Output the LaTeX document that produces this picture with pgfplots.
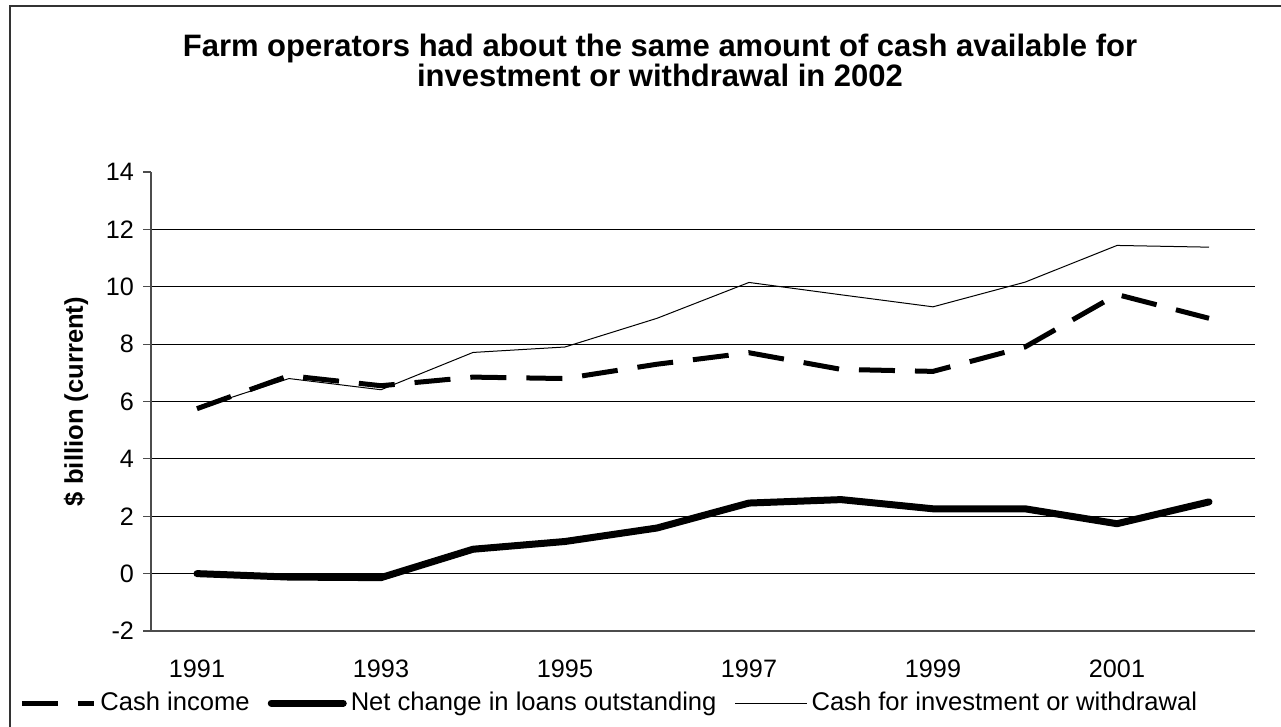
\documentclass[border=0pt]{standalone}
\usepackage{fontspec}
\setmainfont{Liberation Sans}
\usepackage{pgfplots}
\pgfplotsset{compat=1.18}
\newcommand{\tl}{\fontsize{12.6}{14}\selectfont}
\begin{document}
\begin{tikzpicture}
\begin{scope}[x=0.5pt,y=-0.5pt]
\path[use as bounding box] (0,0) rectangle (1281,727);
\draw[line width=1pt, black!80] (10,727) -- (10,6) -- (1281,6);
\node[font=\fontsize{15.5}{15}\selectfont\bfseries, align=center] at (660,60) {Farm operators had about the same amount of cash available for\\investment or withdrawal in 2002};
\end{scope}
\begin{axis}[
  at={(75.5pt,-315.5pt)}, anchor=south west,
  scale only axis, width=552pt, height=229.5pt,
  xmin=1990.5, xmax=2002.5, ymin=-2, ymax=14,
  axis x line*=bottom, axis y line*=left,
  axis line style={black!70, line width=0.6pt, -},
  tick style={black!70, line width=0.6pt},
  tick align=outside, major tick length=4pt, minor tick length=4pt,
  xtick={1991,1993,...,2001}, xtick style={draw=none},
  xticklabels={\tl 1991,\tl 1993,\tl 1995,\tl 1997,\tl 1999,\tl 2001},
  minor xtick={1990.5,1991.5,...,2002.5},
  ytick={-2,0,...,12},
  yticklabels={\tl -2,\tl 0,\tl 2,\tl 4,\tl 6,\tl 8,\tl 10,\tl 12},
  extra y ticks={14}, extra y tick labels={\tl 14}, extra y tick style={grid=none},
  ymajorgrids, grid style={black, line width=0.5pt},
  tick label style={font=\tl},
  xticklabel style={yshift=-7pt},
  yticklabel style={xshift=-1pt},
  ylabel={\$ billion (current)},
  ylabel style={font=\fontsize{12.8}{14}\selectfont\bfseries, at={(axis description cs:-0.068,0.5)}, anchor=center},
  legend columns=3,
  legend style={draw=none, fill=none, at={(axis description cs:-0.1196,-0.157)}, anchor=west,
    font=\fontsize{12.8}{14}\selectfont, inner sep=0pt,
    /tikz/every even column/.append style={column sep=7pt}},
  legend image code/.code={\draw[#1] (0pt,0pt) -- (36pt,0pt);},
]
\addplot[black, line width=2.5pt, dash pattern=on 18pt off 10pt] coordinates {
(1991,5.75) (1992,6.9) (1993,6.55) (1994,6.85) (1995,6.8) (1996,7.3)
(1997,7.7) (1998,7.12) (1999,7.05) (2000,7.9) (2001,9.73) (2002,8.9)};
\addlegendentry{Cash income}
\addplot[black, line width=3.5pt, line join=round, line cap=round] coordinates {
(1991,0) (1992,-0.12) (1993,-0.14) (1994,0.85) (1995,1.12) (1996,1.59)
(1997,2.46) (1998,2.58) (1999,2.26) (2000,2.26) (2001,1.74) (2002,2.5)};
\addlegendentry{Net change in loans outstanding}
\addplot[black, line width=0.5pt] coordinates {
(1991,5.75) (1992,6.8) (1993,6.41) (1994,7.71) (1995,7.9) (1996,8.9)
(1997,10.15) (1998,9.72) (1999,9.3) (2000,10.16) (2001,11.44) (2002,11.38)};
\addlegendentry{Cash for investment or withdrawal}
\end{axis}
\end{tikzpicture}
\end{document}
